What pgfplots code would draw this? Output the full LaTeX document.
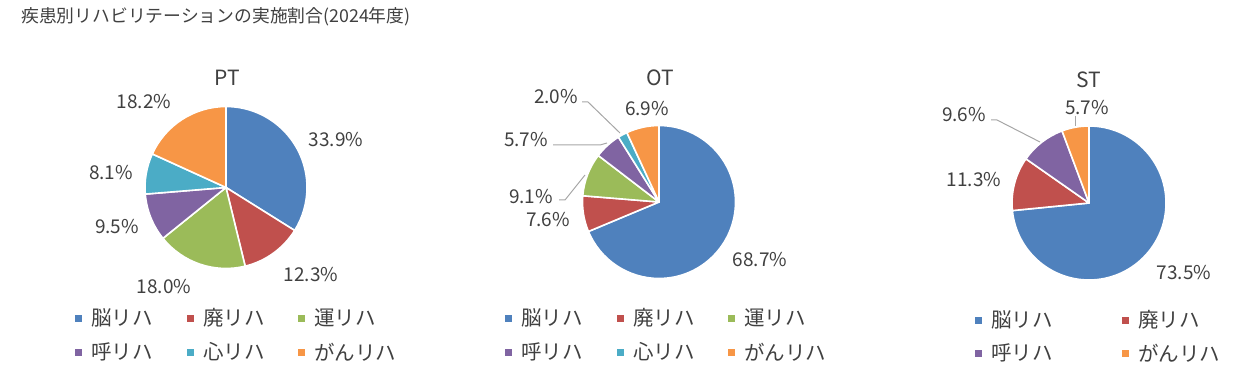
\documentclass[border=0pt]{standalone}
\usepackage{pgfplots}
\usepackage{pgfplotstable}
\pgfplotsset{compat=1.18}
\usepackage{fontspec}
\setmainfont{Noto Sans CJK JP}
\definecolor{cA}{HTML}{4F81BD}
\definecolor{cB}{HTML}{C0504D}
\definecolor{cC}{HTML}{9BBB59}
\definecolor{cD}{HTML}{8064A2}
\definecolor{cE}{HTML}{4BACC6}
\definecolor{cF}{HTML}{F79646}
\definecolor{txt}{HTML}{404040}
\definecolor{lead}{HTML}{A6A6A6}

\pgfplotstableread{
cat val col
脳リハ 33.9 cA
廃リハ 12.3 cB
運リハ 18.0 cC
呼リハ 9.5 cD
心リハ 8.1 cE
がんリハ 18.2 cF
}\PTdata
\pgfplotstableread{
cat val col
脳リハ 68.7 cA
廃リハ 7.6 cB
運リハ 9.1 cC
呼リハ 5.7 cD
心リハ 2.0 cE
がんリハ 6.9 cF
}\OTdata
\pgfplotstableread{
cat val col
脳リハ 73.5 cA
廃リハ 11.3 cB
呼リハ 9.6 cD
がんリハ 5.7 cF
}\STdata

\newcommand\drawpie[4]{%
  \pgfplotstablegetrowsof{#1}%
  \pgfmathtruncatemacro\pieN{\pgfplotsretval-1}%
  \def\piecum{0}%
  \def\pietot{0}%
  \pgfplotsforeachungrouped \pieI in {0,...,\pieN}{%
    \pgfplotstablegetelem{\pieI}{val}\of{#1}%
    \pgfmathsetmacro\pietot{\pietot+\pgfplotsretval}}%
  \pgfplotsforeachungrouped \pieI in {0,...,\pieN}{%
    \pgfplotstablegetelem{\pieI}{val}\of{#1}\let\pieval\pgfplotsretval
    \pgfplotstablegetelem{\pieI}{col}\of{#1}\let\piecol\pgfplotsretval
    \pgfmathsetmacro\pieA{90-\piecum/\pietot*360}%
    \pgfmathsetmacro\pieB{90-(\piecum+\pieval)/\pietot*360}%
    \edef\pietmp{\noexpand\fill[\piecol,draw=white,line width=1.6pt,line join=round] (axis cs:#2,#3) -- ++(\pieA:#4pt) arc[start angle=\pieA,end angle=\pieB,radius=#4pt] -- cycle;}%
    \pietmp
    \pgfmathsetmacro\piecum{\piecum+\pieval}%
  }%
}

\newcommand\legitem[4]{% x y color text
  \fill[#3] (axis cs:#1-3.5,#2-3.5) rectangle (axis cs:#1+3.5,#2+3.5);
  \node[anchor=west,inner sep=0pt,text=txt,font=\fontsize{20.5}{22}\selectfont] at (axis cs:#1+13,#2) {#4};
}

\begin{document}
\begin{tikzpicture}
\useasboundingbox (0,0) rectangle (1250pt,382pt);
\begin{axis}[at={(0,0)},anchor=south west,width=1250pt,height=382pt,scale only axis,
  xmin=0,xmax=1250,ymin=0,ymax=382,y dir=reverse,hide axis,clip=false]
% title
\node[anchor=west,inner sep=0pt,text=txt,font=\fontsize{17.8}{19}\selectfont] at (axis cs:21,17) {疾患別リハビリテーションの実施割合(2024年度)};
% pies
\drawpie{\PTdata}{226}{187.5}{81}
\drawpie{\OTdata}{659}{202}{76.5}
\drawpie{\STdata}{1089}{203}{77}
% pie titles
\node[text=txt,font=\fontsize{21}{23}\selectfont,inner sep=0pt] at (axis cs:227,78) {PT};
\node[text=txt,font=\fontsize{21}{23}\selectfont,inner sep=0pt] at (axis cs:660,78) {OT};
\node[text=txt,font=\fontsize{21}{23}\selectfont,inner sep=0pt] at (axis cs:1089,80) {ST};
% leader lines
\draw[lead,line width=1pt] (axis cs:582,102) -- (axis cs:588,102) -- (axis cs:620,133);
\draw[lead,line width=1pt] (axis cs:553,145) -- (axis cs:600,145) -- (axis cs:607,143);
\draw[lead,line width=1pt] (axis cs:559,200) -- (axis cs:565,200) -- (axis cs:585,175);
\draw[lead,line width=1pt] (axis cs:1075,116) -- (axis cs:1075,126);
\draw[lead,line width=1pt] (axis cs:991,120) -- (axis cs:997,120) -- (axis cs:1040,142);
% data labels
\begin{scope}[every node/.style={text=txt,font=\fontsize{19}{21}\selectfont,inner sep=0pt}]
\node at (axis cs:336,140) {33.9\%};
\node at (axis cs:311,275) {12.3\%};
\node at (axis cs:164,287) {18.0\%};
\node at (axis cs:117,227) {9.5\%};
\node at (axis cs:111,173) {8.1\%};
\node at (axis cs:144,102) {18.2\%};
\node at (axis cs:556,97) {2.0\%};
\node at (axis cs:647,109) {6.9\%};
\node at (axis cs:526,140) {5.7\%};
\node at (axis cs:531,197) {9.1\%};
\node at (axis cs:548,220) {7.6\%};
\node at (axis cs:760,260) {68.7\%};
\node at (axis cs:1087,108) {5.7\%};
\node at (axis cs:964,115) {9.6\%};
\node at (axis cs:974,180) {11.3\%};
\node at (axis cs:1184,273) {73.5\%};
\end{scope}
% legends
\legitem{78}{318}{cA}{脳リハ}
\legitem{190}{318}{cB}{廃リハ}
\legitem{301}{318}{cC}{運リハ}
\legitem{78}{352}{cD}{呼リハ}
\legitem{190}{352}{cE}{心リハ}
\legitem{301}{352}{cF}{がんリハ}
\legitem{508}{318}{cA}{脳リハ}
\legitem{620}{318}{cB}{廃リハ}
\legitem{731}{318}{cC}{運リハ}
\legitem{508}{352}{cD}{呼リハ}
\legitem{620}{352}{cE}{心リハ}
\legitem{731}{352}{cF}{がんリハ}
\legitem{978}{320}{cA}{脳リハ}
\legitem{1125}{320}{cB}{廃リハ}
\legitem{978}{353}{cD}{呼リハ}
\legitem{1125}{353}{cF}{がんリハ}
\end{axis}
\end{tikzpicture}
\end{document}
